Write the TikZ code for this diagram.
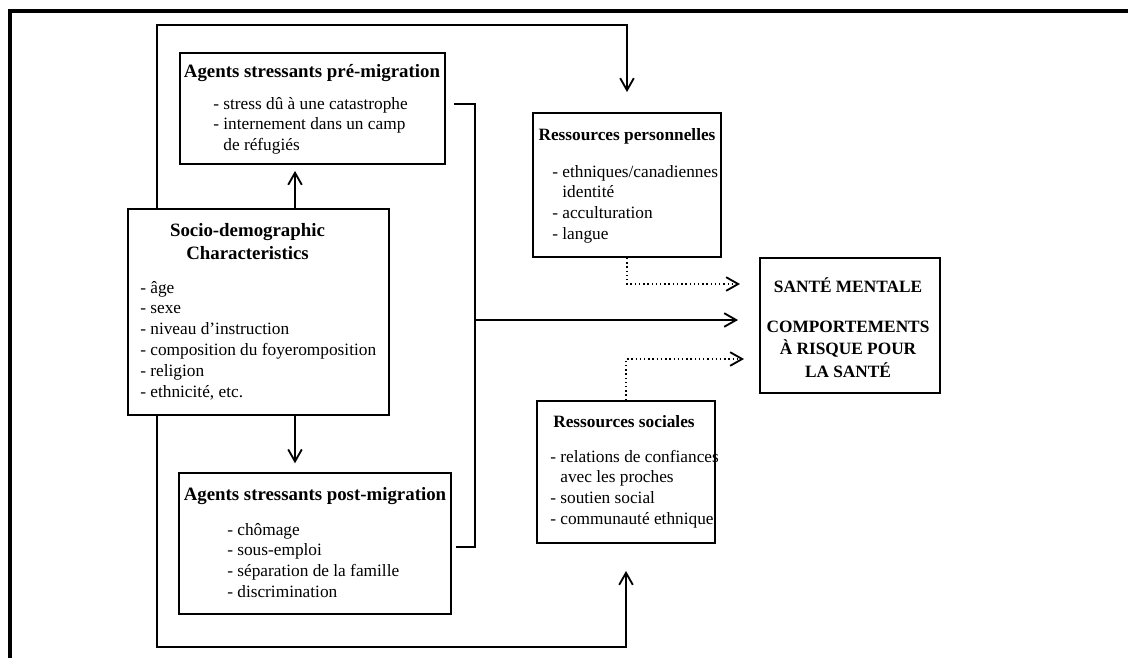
\documentclass[tikz,border=0pt]{standalone}
\usepackage{fontspec}
\setmainfont{Liberation Serif}
\usetikzlibrary{arrows.meta}
\newcommand{\leftlines}[1]{\begin{tabular}[t]{@{}l@{}}#1\end{tabular}}
\newcommand{\midlines}[1]{\begin{tabular}[t]{@{}c@{}}#1\end{tabular}}
\tikzset{
  box/.style={draw, line width=1.3pt, inner sep=0pt},
  heading/.style={font=\fontsize{12.3}{14.9}\selectfont\bfseries,
    anchor=base, inner sep=0pt},
  big heading/.style={heading, font=\fontsize{13.4}{16}\selectfont\bfseries},
  items/.style={font=\fontsize{12.3}{14.9}\selectfont,
    anchor=base west, inner sep=0pt},
  plain/.style={line width=1pt},
  link/.style={plain, -{Straight Barb[length=3mm,width=3.4mm,line width=1.3pt]}},
  weak/.style={link, dotted}
}

\begin{document}
\begin{tikzpicture}[x=0.025cm,y=-0.025cm]
  \useasboundingbox (0,0) rectangle (1128,658);
  % frame
  \draw[line width=2.8pt] (10,658) -- (10,11) -- (1128,11);

  % boxes
  \node[box, minimum width=6.625cm, minimum height=2.775cm] (pre) at (312.5,108.5) {};
  \node[big heading] (pre title) at (312,77) {Agents stressants pré-migration};
  \node[items] (pre list) at (213,109) {\leftlines{- stress dû à une catastrophe\\- internement dans un camp\\\phantom{-}\ de réfugiés}};

  \node[box, minimum width=6.525cm, minimum height=5.15cm] (socio) at (258.5,312) {};
  \node[big heading] (socio title) at (247.5,236) {\midlines{Socio-demographic\\[1pt]Characteristics}};
  \node[items] (socio list) at (140,293) {\leftlines{- âge\\- sexe\\- niveau d’instruction\\- composition du foyeromposition\\- religion\\- ethnicité, etc.}};

  \node[box, minimum width=6.8cm, minimum height=3.525cm] (post) at (315,543.5) {};
  \node[big heading] (post title) at (315,500) {Agents stressants post-migration};
  \node[items] (post list) at (227,535) {\leftlines{- chômage\\- sous-emploi\\- séparation de la famille\\- discrimination}};

  \node[box, minimum width=4.7cm, minimum height=3.6cm] (pers) at (627,185) {};
  \node[heading] (pers title) at (627,140) {Ressources personnelles};
  \node[items] (pers list) at (552,177) {\leftlines{- ethniques/canadiennes\\\phantom{-}\ identité\\- acculturation\\- langue}};

  \node[box, minimum width=4.5cm, minimum height=3.375cm] (sante) at (850,325.5) {};
  \node[heading] (sante title) at (848,292) {SANTÉ MENTALE};
  \node[heading] (risque title) at (848,332) {\midlines{COMPORTEMENTS\\[1pt]À RISQUE POUR\\[1pt]LA SANTÉ}};

  \node[box, minimum width=4.45cm, minimum height=3.55cm] (sociales) at (626,472) {};
  \node[heading] (sociales title) at (624,427) {Ressources sociales};
  \node[items] (sociales list) at (550,462) {\leftlines{- relations de confiances\\\phantom{-}\ avec les proches\\- soutien social\\- communauté ethnique}};

  % connectors
  \coordinate (mid) at (295,0);
  \coordinate (top) at (157,25);
  \coordinate (bottom) at (157,647);
  \coordinate (join) at (475,320);
  \coordinate (dotA) at (760,284);
  \coordinate (dotB) at (760,359);

  \draw[link, shorten >=0.15cm] (socio.north -| mid) -- (pre.south -| mid);
  \draw[link, shorten >=0.22cm] (socio.south -| mid) -- (post.north -| mid);
  \draw[link, shorten >=0.5cm] (socio.north -| top) -- (top) -| (pers.north);
  \draw[link, shorten >=0.675cm] (socio.south -| bottom) -- (bottom) -| (sociales.south);
  \draw[plain] ([xshift=0.2cm,yshift=0.11cm]pre.east) -| (join) |- ([xshift=0.1cm,yshift=-0.09cm]post.east);
  \draw[link, shorten >=0.525cm] (join) -- (join -| sante.west);
  \draw[weak, shorten >=0.5cm] (pers.south) |- (dotA);
  \draw[weak, shorten >=0.4cm] (sociales.north) |- (dotB);
\end{tikzpicture}
\end{document}
